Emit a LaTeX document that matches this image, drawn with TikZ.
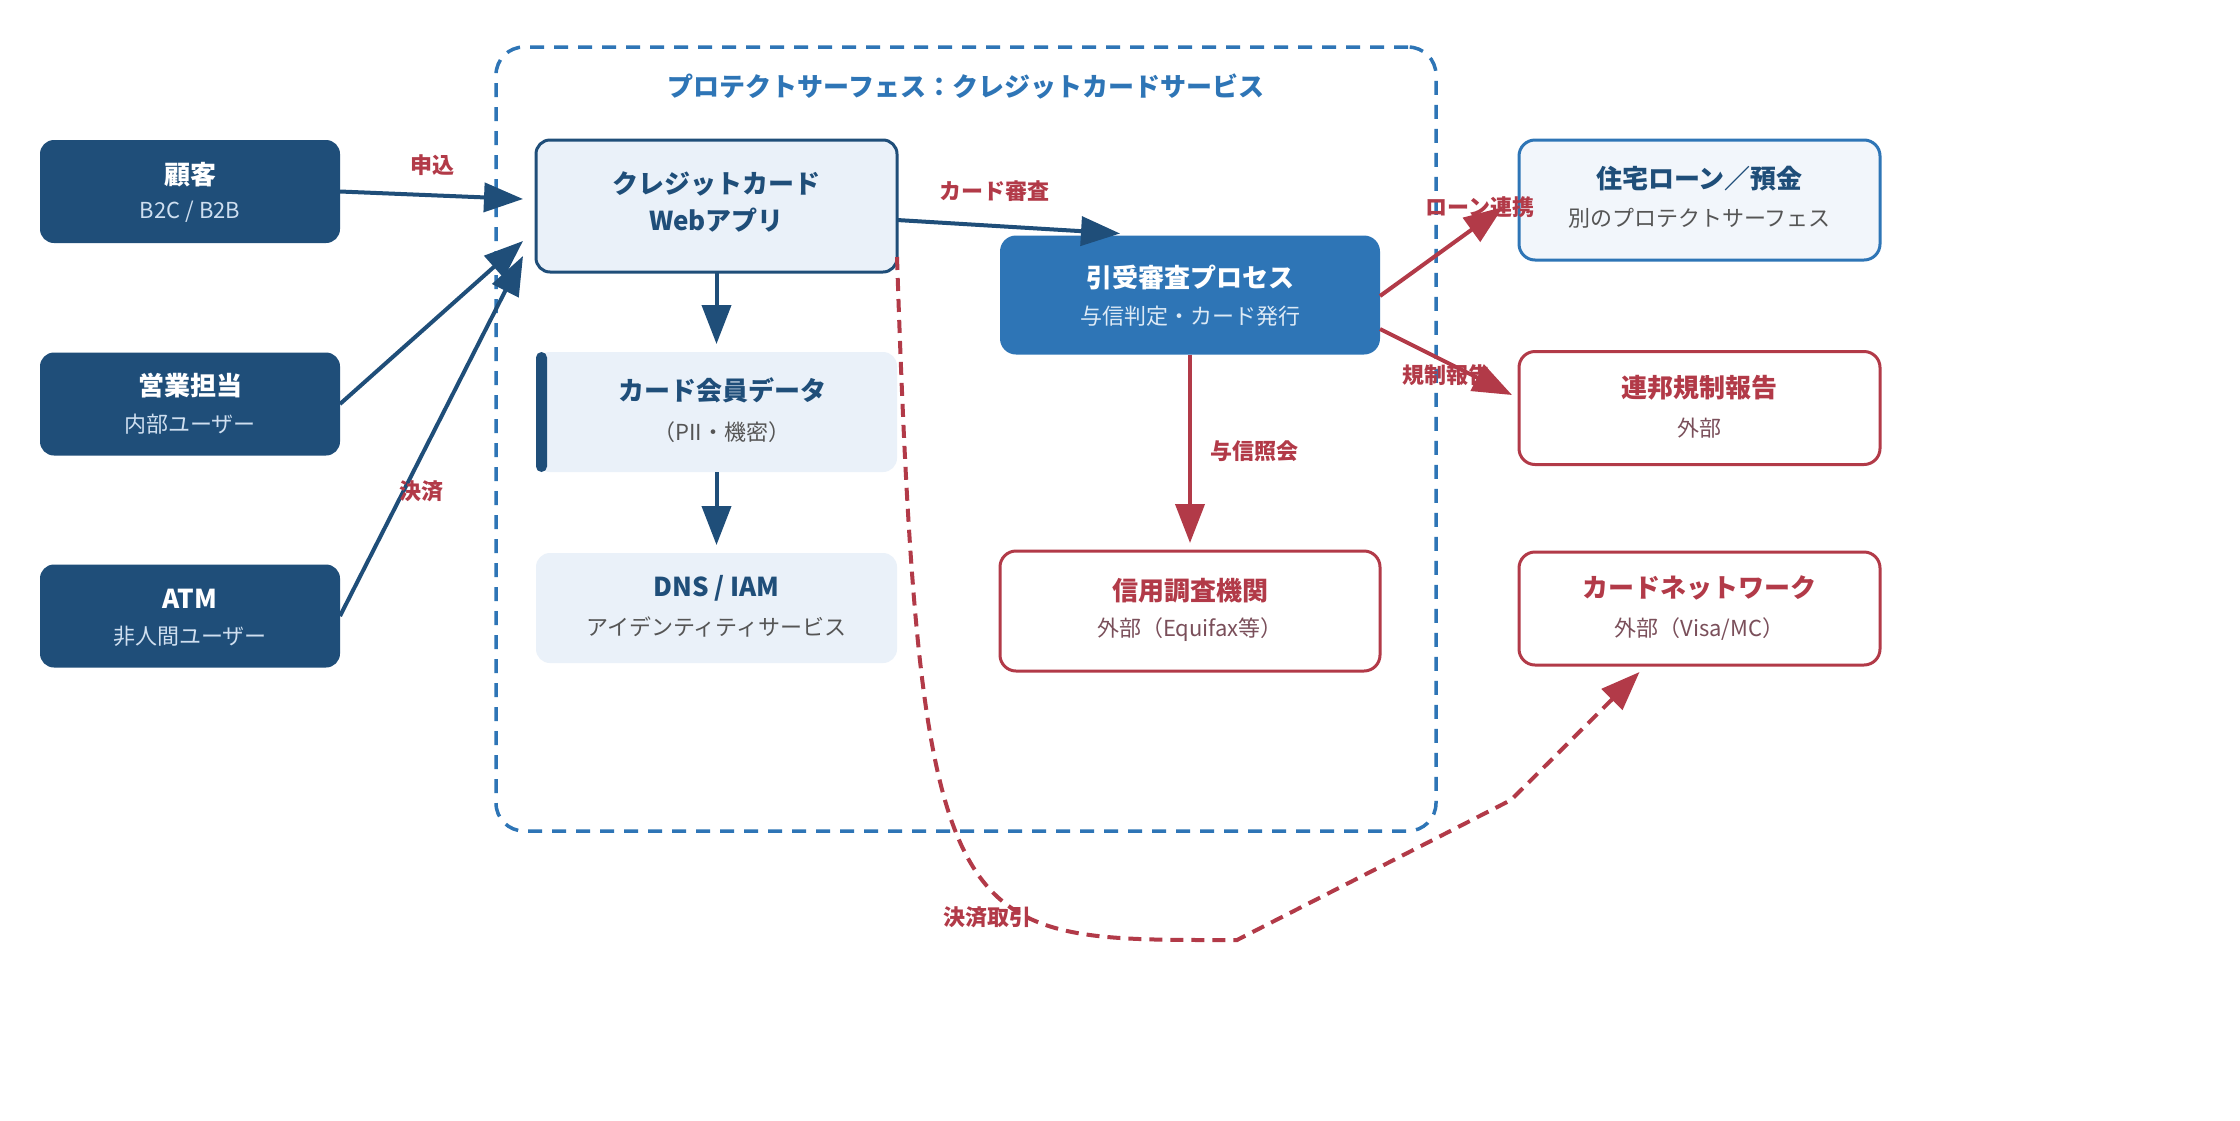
\documentclass[tikz,border=0pt]{standalone}
\usepackage{fontspec}
\setmainfont{Noto Sans CJK JP}
\usetikzlibrary{arrows.meta,calc}
\definecolor{navy}{HTML}{1F4E79}
\definecolor{mblue}{HTML}{2E75B6}
\definecolor{lightfill}{HTML}{EAF1F9}
\definecolor{paleFill}{HTML}{F2F6FB}
\definecolor{cred}{HTML}{B23A48}
\definecolor{subgray}{HTML}{555555}
\definecolor{submauve}{HTML}{7A4F5A}
\definecolor{sublight}{HTML}{CFDFF0}
\definecolor{subwhite}{HTML}{DDEAF6}
\begin{document}
\begin{tikzpicture}[x=1pt,y=-1pt,
  box/.style={rectangle, inner sep=0pt, outer sep=0pt},
  actor/.style={box, fill=navy, rounded corners=14pt},
  lightbox/.style={box, fill=lightfill, rounded corners=14pt},
  extbox/.style={box, fill=white, draw=cred, line width=3pt, rounded corners=16pt},
  ttl/.style={inner sep=0pt, font=\fontsize{26}{30}\selectfont\bfseries},
  subt/.style={inner sep=0pt, font=\fontsize{22}{26}\selectfont},
  lbl/.style={inner sep=0pt, font=\fontsize{22}{26}\selectfont\bfseries, text=cred},
  flow/.style={-{Triangle[length=39pt,width=29pt]}, line width=4pt, draw=navy},
  rflow/.style={-{Triangle[length=39pt,width=29pt]}, line width=4pt, draw=cred},
  payflow/.style={-{Triangle[length=39pt,width=29pt]}, line width=4pt, draw=cred, dash pattern=on 13pt off 8pt}
]
\useasboundingbox (0,0) rectangle (2240,1120);
\fill[white] (0,0) rectangle (2240,1120);

% protect surface boundary
\node[box, draw=mblue, line width=3.5pt, dash pattern=on 14pt off 10pt, rounded corners=28pt,
      minimum width=940pt, minimum height=784pt] (surface) at (966,439) {};
\node[ttl, text=mblue] (surface-t) at (966,86) {プロテクトサーフェス：クレジットカードサービス};

% left actors
\node[actor, minimum width=300pt, minimum height=103pt] (cust) at (190,191.5) {};
\node[ttl, text=white] (cust-t) at (190,175) {顧客};
\node[subt, text=sublight] (cust-s) at (190,212) {B2C / B2B};

\node[actor, minimum width=300pt, minimum height=103pt] (sales) at (190,404) {};
\node[ttl, text=white] (sales-t) at (190,386) {営業担当};
\node[subt, text=sublight] (sales-s) at (190,424) {内部ユーザー};

\node[actor, minimum width=300pt, minimum height=103pt] (atm) at (190,616) {};
\node[ttl, text=white] (atm-t) at (190,599) {ATM};
\node[subt, text=sublight] (atm-s) at (190,636) {非人間ユーザー};

% inner column
\node[lightbox, draw=navy, line width=3pt, minimum width=361pt, minimum height=132pt] (webapp) at (716.5,206) {};
\node[ttl, text=navy] (webapp-t1) at (716.5,184) {クレジットカード};
\node[ttl, text=navy] (webapp-t2) at (716.5,220) {Webアプリ};

\node[lightbox, minimum width=361pt, minimum height=120pt] (carddata) at (716.5,412) {};
\fill[navy, rounded corners=5.5pt] (carddata.north west) rectangle ($(carddata.south west)+(11,0)$);
\node[ttl, text=navy] (carddata-t) at (722,390) {カード会員データ};
\node[subt, text=subgray] (carddata-s) at (722,432) {（PII・機密）};

\node[lightbox, minimum width=361pt, minimum height=110pt] (dns) at (716.5,608) {};
\node[ttl, text=navy] (dns-t) at (716.5,588) {DNS / IAM};
\node[subt, text=subgray] (dns-s) at (716.5,627) {アイデンティティサービス};

\node[box, fill=mblue, rounded corners=16pt, minimum width=380pt, minimum height=119pt] (uw) at (1190,295) {};
\node[ttl, text=white] (uw-t) at (1190,277) {引受審査プロセス};
\node[subt, text=subwhite] (uw-s) at (1190,316) {与信判定・カード発行};

\node[extbox, minimum width=380pt, minimum height=120pt] (bureau) at (1190,611) {};
\node[ttl, text=cred] (bureau-t) at (1190,591) {信用調査機関};
\node[subt, text=submauve] (bureau-s) at (1190,630) {外部（Equifax等）};

% right column
\node[box, fill=paleFill, draw=mblue, line width=3pt, rounded corners=16pt, minimum width=361pt, minimum height=120pt] (housing) at (1699.5,200) {};
\node[ttl, text=navy] (housing-t) at (1699.5,179) {住宅ローン／預金};
\node[subt, text=subgray] (housing-s) at (1699.5,218) {別のプロテクトサーフェス};

\node[extbox, minimum width=361pt, minimum height=113pt] (fed) at (1699.5,408) {};
\node[ttl, text=cred] (fed-t) at (1699.5,388) {連邦規制報告};
\node[subt, text=submauve] (fed-s) at (1699.5,428) {外部};

\node[extbox, minimum width=361pt, minimum height=113pt] (cardnet) at (1699.5,608.5) {};
\node[ttl, text=cred] (cardnet-t) at (1699.5,588) {カードネットワーク};
\node[subt, text=submauve] (cardnet-s) at (1699.5,629) {外部（Visa/MC）};

% connectors: actors -> web app
\draw[flow] (cust.east) -- ($(webapp.west)+(-13,-7)$);
\draw[flow] (sales.east) -- ($(webapp.west)+(-13,35)$);
\draw[flow] (atm.east) -- ($(webapp.west)+(-13,50)$);
\node[lbl] (l-apply) at (432,165) {申込};
\node[lbl] (l-pay) at (421,491) {決済};

% inner flows
\draw[flow] (webapp.south) -- ($(carddata.north)+(0,-8)$);
\draw[flow] (carddata.south) -- ($(dns.north)+(0,-8)$);
\draw[flow] ($(webapp.east)+(0,14)$) -- ($(uw.north west)+(120,-2)$);
\node[lbl] (l-review) at (994,191) {カード審査};

\draw[rflow] (uw.south) -- ($(bureau.north)+(0,-8)$);
\node[lbl] (l-credit) at (1254,451) {与信照会};

\draw[rflow] ($(uw.east)+(0,1)$) -- ($(housing.west)+(-16,7)$);
\node[lbl] (l-loan) at (1480,207) {ローン連携};
\draw[rflow] ($(uw.east)+(0,34)$) -- ($(fed.west)+(-7,-13)$);
\node[lbl] (l-report) at (1446,375) {規制報告};

% payment transaction (dashed)
\coordinate (pay1) at (1237,940);
\coordinate (pay2) at (1511,800);
\draw[payflow] ($(webapp.south east)+(0,-15)$) .. controls (920,950) and (950,940) .. (pay1) -- (pay2) -- ($(cardnet.south)+(-60,7)$);
\node[lbl] (l-txn) at (987,917) {決済取引};
\end{tikzpicture}
\end{document}
